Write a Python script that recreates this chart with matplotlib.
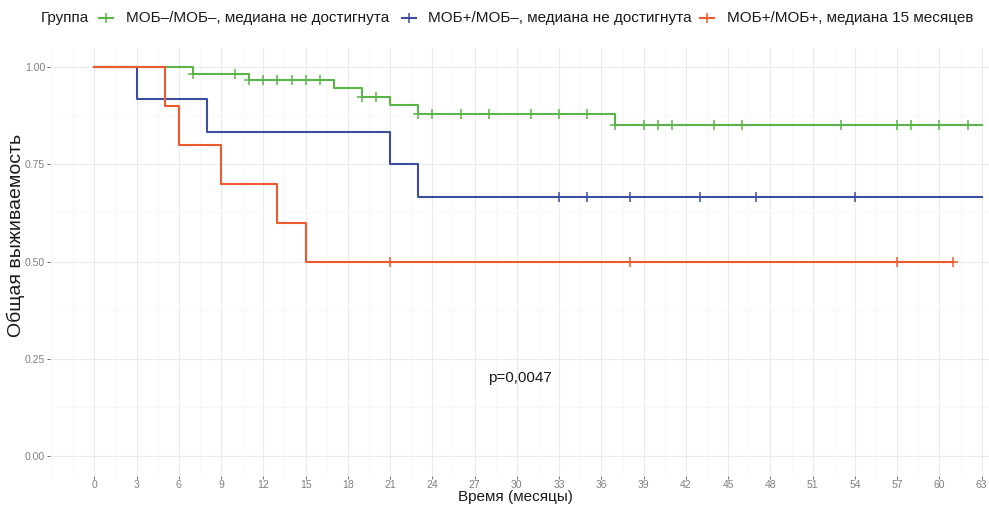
import matplotlib
matplotlib.use("Agg")
import matplotlib.pyplot as plt
from matplotlib.lines import Line2D
from matplotlib.ticker import MultipleLocator

plt.rcParams['font.family'] = ['Liberation Sans', 'DejaVu Sans']

# Kaplan-Meier curves
labels = ['МОБ–/МОБ–, медиана не достигнута',
          'МОБ+/МОБ–, медиана не достигнута',
          'МОБ+/МОБ+, медиана 15 месяцев']
colors = ['#5BB449', '#3C4DA0', '#EE5A2B']

green_t = [0, 7, 11, 17, 19, 21, 23, 37, 63]
green_s = [1.0, 0.983, 0.966, 0.945, 0.924, 0.902, 0.880, 0.850, 0.850]
green_cens_t = [7, 10, 11, 12, 13, 14, 15, 16, 19, 20, 23, 24, 26, 28, 31, 33, 35,
                37, 39, 40, 41, 44, 46, 53, 57, 58, 60, 62]

blue_t = [0, 3, 8, 21, 23, 63]
blue_s = [1.0, 0.917, 0.833, 0.750, 0.667, 0.667]
blue_cens_t = [33, 35, 38, 43, 47, 54]

red_t = [0, 5, 6, 9, 13, 15, 61]
red_s = [1.0, 0.9, 0.8, 0.7, 0.6, 0.5, 0.5]
red_cens_t = [21, 38, 57, 61]

x_ticks = list(range(0, 64, 3))
y_ticks = [0.0, 0.25, 0.5, 0.75, 1.0]
p_text = 'p=0,0047'


def surv_at(times, surv, t):
    val = surv[0]
    for ti, si in zip(times, surv):
        if ti <= t:
            val = si
    return val


W, H = 989, 507
fig = plt.figure(figsize=(W / 100, H / 100), dpi=100)
fig.patch.set_facecolor('white')
ax = fig.add_axes([50 / W, 31.5 / H, 976 / W, 428 / H])

curves = [(green_t, green_s, green_cens_t),
          (blue_t, blue_s, blue_cens_t),
          (red_t, red_s, red_cens_t)]
for (t, s, ct), col in zip(curves, colors):
    ax.step(t, s, where='post', color=col, lw=1.5, zorder=3)
    cs = [surv_at(t, s, c) for c in ct]
    ax.plot(ct, cs, ls='none', marker='+', ms=7, mew=1.1, color=col, zorder=4)

ax.set_xlim(-3.15, 66.15)
ax.set_ylim(-0.05, 1.05)
ax.set_xticks(x_ticks)
ax.set_yticks(y_ticks)
ax.set_yticklabels(['%.2f' % v for v in y_ticks])
ax.xaxis.set_minor_locator(MultipleLocator(1.5))
ax.yaxis.set_minor_locator(MultipleLocator(0.125))
ax.grid(which='major', color='#EBEBEB', lw=0.8, zorder=0)
ax.grid(which='minor', color='#F4F4F4', lw=0.5, zorder=0)
ax.set_axisbelow(True)
for sp in ax.spines.values():
    sp.set_visible(False)
ax.tick_params(axis='both', which='major', length=2.5, width=0.6, color='#555555',
               labelcolor='#7F7F7F', labelsize=7.5)
ax.tick_params(axis='x', which='major', pad=0.8)
ax.tick_params(axis='y', which='major', pad=1.0)
ax.tick_params(axis='both', which='minor', length=0)

ax.set_xlabel('Время (месяцы)', fontsize=11, color='#1A1A1A')
ax.set_ylabel('Общая выживаемость', fontsize=14, color='#1A1A1A')
ax.xaxis.set_label_coords((515 - 50) / 976, -(490 - 475.5) / 428)
ax.yaxis.set_label_coords(-(50 - 25) / 976, (475.5 - 235) / 428)

ax.text(30.2, 0.2, p_text, fontsize=11, ha='center', va='center', color='#1A1A1A')

# legend across the top, laid out by hand like the ggplot one
leg_y = 1 - 18 / H
fig.text(41 / W, leg_y, 'Группа', fontsize=11, va='center', color='#1A1A1A')
key_centers = [106, 409, 707]
text_starts = [126, 428, 727]
for kc, ts, col, lab in zip(key_centers, text_starts, colors, labels):
    fig.add_artist(Line2D([(kc - 7) / W, (kc + 7) / W], [leg_y, leg_y], color=col, lw=1.5,
                          transform=fig.transFigure))
    fig.add_artist(Line2D([kc / W], [leg_y], color=col, marker='+', ms=7, mew=1.1,
                          transform=fig.transFigure))
    fig.text(ts / W, leg_y, lab, fontsize=11, va='center', color='#1A1A1A')

fig.savefig('out.png', dpi=100, facecolor='white')
